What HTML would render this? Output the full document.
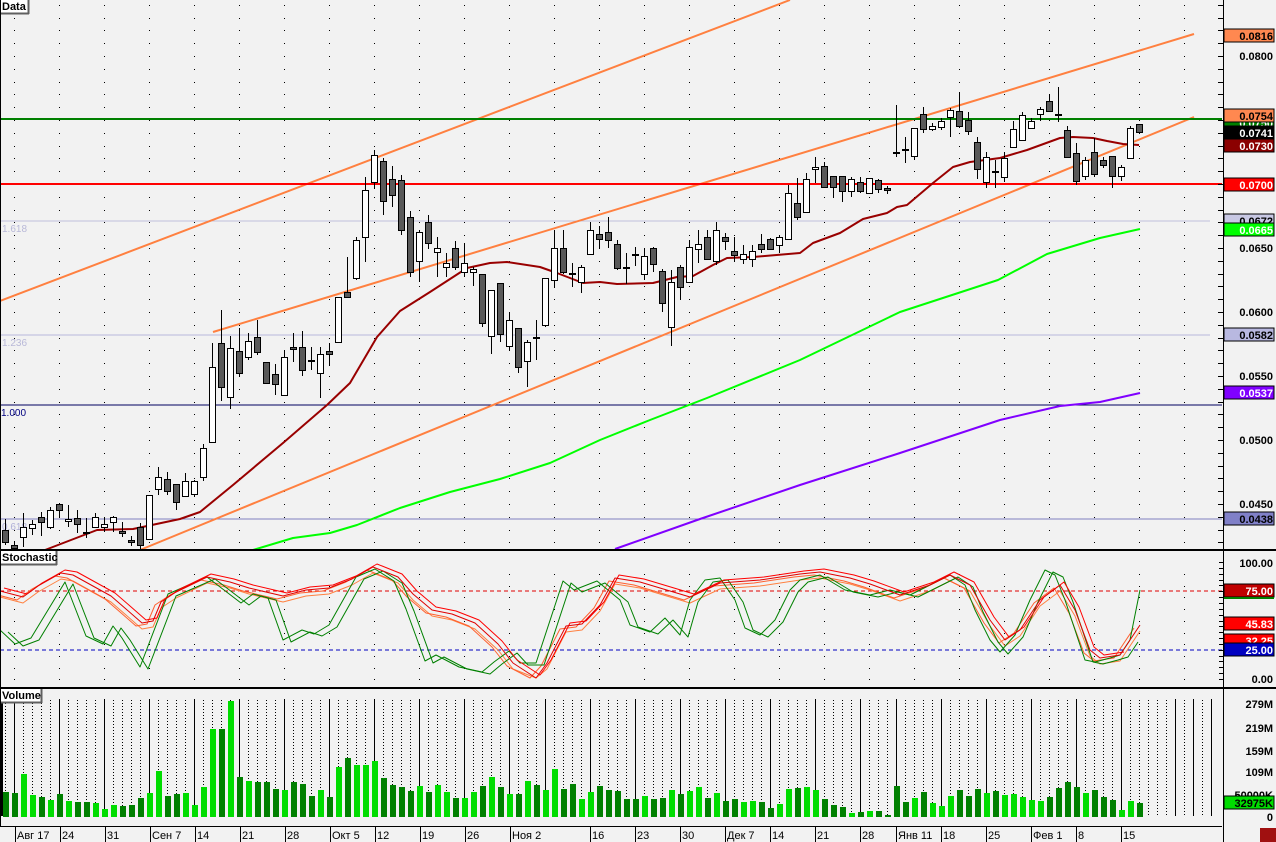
<!DOCTYPE html>
<html><head><meta charset="utf-8"><style>
html,body{margin:0;padding:0;background:#f2f2f2;}
svg{display:block;font-family:"Liberation Sans",sans-serif;}
</style></head><body>
<svg id="s" width="1276" height="842" xmlns="http://www.w3.org/2000/svg"></svg>
<script>
var o=[];
function L(x1,y1,x2,y2,c,w,d){o.push('<line x1="'+x1+'" y1="'+y1+'" x2="'+x2+'" y2="'+y2+'" stroke="'+c+'" stroke-width="'+(w||1)+'"'+(d?' stroke-dasharray="'+d+'"':'')+' shape-rendering="crispEdges"/>');}
function R(x,y,w,h,f,s){o.push('<rect x="'+x+'" y="'+y+'" width="'+w+'" height="'+h+'" fill="'+f+'"'+(s?' stroke="'+s+'"':'')+' shape-rendering="crispEdges"/>');}
function T(x,y,t,c,sz,a,b){o.push('<text x="'+x+'" y="'+y+'" fill="'+c+'" font-size="'+sz+'"'+(a?' text-anchor="'+a+'"':'')+(b?' font-weight="bold"':'')+'>'+t+'</text>');}
function P(pts,c,w){o.push('<polyline points="'+pts.map(function(p){return p.join(",")}).join(" ")+'" fill="none" stroke="'+c+'" stroke-width="'+w+'" stroke-linejoin="round"/>');}
R(0,0,1276,842,"#f2f2f2");
// main grid dots
var dots='';
for(var x=14;x<1222;x+=45){for(var y=56-12.8*4;y<548;y+=12.8){if(y>2)dots+='M'+x+' '+Math.round(y)+'h1v1h-1z';}}
for(var x=14;x<1222;x+=45){for(var y=574;y<686;y+=11.7){dots+='M'+x+' '+Math.round(y)+'h1v1h-1z';}}
o.push('<path d="'+dots+'" fill="#000"/>');
// fib lines
L(0,221,1210,221,"#c0c0dc",1);L(0,335,1210,335,"#b8b8dc",1);L(0,405,1222,405,"#000060",1);L(0,519,1222,519,"#8080c0",1);
T(2,232,"1.618","#b8b8d8",10);T(2,346,"1.236","#b8b8d8",10);T(1,416,"1.000","#000080",10);T(2,530,"0.618","#b0b0d8",10);
// channel lines
P([[0,301],[790,0]],"#ff8040",2);P([[213,332],[1194,34]],"#ff8040",2);P([[140,550],[1194,117]],"#ff8040",2);
L(0,119,1222,119,"#008000",2);L(0,184,1222,184,"#ff0000",2);
// MAs
P([[253,550],[293,538],[330,533],[357,525],[400,508],[450,492],[500,479],[550,463],[600,440],[650,420],[707,398],[800,360],[900,312],[998,280],[1047,254],[1100,238],[1140,229]],"#00ff00",2);
P([[615,549],[700,519],[800,485],[900,453],[1000,420],[1060,406],[1100,402],[1140,393]],"#8000ff",2);
P([[45,550],[97,530],[133,529],[180,519],[200,512],[233,485],[283,443],[327,405],[350,383],[377,337],[400,311],[430,292],[467,268],[490,263],[507,262],[540,267],[557,273],[583,283],[600,282],[617,284],[653,283],[677,277],[693,276],[713,265],[727,258],[753,257],[800,253],[813,243],[840,233],[863,219],[887,213],[897,207],[907,205],[933,183],[953,167],[970,162],[1000,158],[1027,150],[1060,138],[1073,137],[1093,138],[1107,141],[1123,144],[1139,145]],"#990000",2);
// candles
var C=[[0,530,542,519,545],[0,545,548,541,549],[1,527,537,513,547],[1,524,528,520,535],[0,517,522,512,536],[1,510,527,507,529],[0,504,510,503,517],[1,519,521,505,527],[0,518,524,510,533],[0,532,533,518,538],[1,517,527,513,528],[1,524,527,518,532],[1,517,522,516,532],[0,531,533,522,537],[0,540,542,536,546],[0,527,545,523,549],[1,495,539,495,540],[1,477,489,467,495],[0,479,491,472,495],[0,484,502,484,510],[1,481,496,473,497],[1,481,494,480,497],[1,448,477,444,481],[1,367,442,343,442],[0,343,387,310,401],[1,348,397,336,409],[0,351,373,328,377],[1,341,357,333,360],[0,337,352,320,355],[0,362,383,362,383],[0,374,384,364,395],[1,357,395,350,396],[0,347,349,333,362],[0,347,370,331,376],[0,360,361,347,370],[1,354,373,347,398],[0,351,354,343,366],[1,297,342,297,343],[0,292,297,257,298],[1,240,278,237,280],[1,190,237,177,262],[1,155,182,150,189],[0,161,201,158,215],[0,179,195,166,207],
[0,180,230,175,235],[0,217,272,211,277],[1,232,261,230,282],[0,222,243,215,249],[1,248,252,237,277],[1,263,267,253,277],[0,248,267,241,270],[1,263,272,243,277],[1,269,272,267,286],[0,274,323,274,327],[1,290,336,290,354],[0,283,334,283,342],[1,320,346,313,350],[0,328,367,328,373],[1,342,361,340,387],[0,337,338,320,360],[1,278,325,278,327],[1,248,280,230,288],[0,248,272,230,274],[0,273,274,263,287],[1,267,282,265,293],[1,230,254,222,255],[0,234,239,226,248],[0,232,240,217,248],[0,244,268,240,270],[0,267,268,253,284],[0,254,255,247,266],[1,256,274,248,280],[0,248,264,247,272],[0,271,303,269,312],[1,282,327,270,346],[0,267,287,265,300],[1,247,282,240,283],[1,244,249,230,263],[0,237,259,230,260],[1,230,261,222,265],[0,237,241,233,250],[0,251,255,237,262],[1,254,259,245,264],[1,251,259,245,267],[0,244,249,234,253],[0,239,249,238,250],[1,237,245,235,253],[1,193,239,185,240],[0,203,217,178,220],
[1,179,212,173,213],[1,167,169,157,183],[0,166,187,162,187],[0,176,187,176,198],[0,176,191,176,202],[1,179,191,177,197],[0,182,191,177,193],[1,178,193,178,193],[0,180,189,179,193],[0,188,190,186,194],[0,152,153,105,157],[0,149,150,137,163],[1,128,156,128,160],[0,114,129,107,133],[1,126,129,123,131],[1,121,127,118,130],[1,110,117,108,137],[0,111,126,92,128],[0,120,131,112,135],[0,142,169,137,179],[1,157,182,152,188],[0,171,172,160,188],[1,158,177,152,182],[1,129,147,121,148],[1,115,140,112,140],[1,121,128,118,129],[1,109,114,107,121],[0,101,111,95,111],[0,114,115,87,122],[0,130,157,126,158],[0,153,181,143,185],[1,160,176,157,180],[0,152,174,138,177],[0,160,165,157,168],[0,156,176,156,188],[1,167,176,165,181],[1,128,158,126,159],[0,124,132,124,132]];
C.forEach(function(c,i){var x=5+9*i;L(x+0.5,c[3],x+0.5,c[4],"#000",1);var h=Math.max(1,c[2]-c[1]);o.push('<rect x="'+(x-2.5)+'" y="'+(c[1]+0.5)+'" width="6" height="'+h+'" fill="'+(c[0]?"#fff":"#595959")+'" stroke="#000" stroke-width="1"/>');});
// panel separators
L(0,550,1276,550,"#000",2);L(0,688,1276,688,"#000",2);L(0,826.5,1222,826.5,"#000",1);
// stochastic
L(0,591,1222,591,"#e00000",1,"4,3");L(0,650,1222,650,"#0000c0",1,"4,3");
var G=[[0,630],[15,644],[31,638],[65,582],[86,636],[103,644],[113,626],[122,638],[140,667],[168,594],[207,577],[241,603],[253,594],[268,598],[283,640],[302,630],[314,634],[329,625],[356,577],[375,569],[394,581],[406,609],[425,661],[436,655],[459,667],[482,672],[494,662],[509,651],[520,663],[536,663],[563,581],[574,590],[597,581],[620,600],[630,625],[650,632],[665,618],[680,635],[690,600],[705,580],[720,578],[735,600],[745,628],[760,635],[775,620],[790,590],[800,580],[820,575],[845,590],[870,595],[890,590],[910,595],[930,585],[950,575],[965,585],[975,610],[990,640],[1000,652],[1015,635],[1030,600],[1045,570],[1055,575],[1065,600],[1075,630],[1085,660],[1095,662],[1110,658],[1120,655],[1130,640],[1140,590]];
var Rd=[[0,591],[23,597],[38,586],[61,573],[73,575],[111,596],[126,609],[142,623],[153,621],[161,602],[176,592],[207,577],[230,582],[249,588],[283,596],[306,590],[329,588],[352,579],[373,567],[398,577],[413,594],[432,610],[452,614],[475,623],[498,644],[513,663],[536,678],[547,663],[566,626],[582,624],[600,605],[615,578],[640,582],[660,588],[690,597],[720,583],[760,580],[800,574],[820,572],[850,578],[870,584],[900,595],[930,585],[950,575],[970,585],[990,620],[1005,640],[1020,630],[1040,600],[1060,585],[1075,610],[1090,650],[1100,658],[1120,655],[1140,625]];
function sh(a,dx,dy){return a.map(function(p){return [p[0]+dx,Math.min(678,p[1]+dy)]}).filter(function(p){return p[0]<=1140});}
P(sh(Rd,0,6),"#ff8040",1);P(sh(Rd,-6,3),"#ff6030",1);
P(sh(G,8,2),"#008000",1);P(G,"#008000",1);
P(sh(Rd,4,-3),"#ff0000",1);P(Rd,"#e00000",1);
// volume
var V=[792,793,774,795,797,800,794,801,802,802,803,809,805,806,805,798,793,771,796,794,793,805,787,729,729,701,777,781,782,782,789,790,782,784,796,790,797,767,758,765,765,761,778,785,787,791,786,792,785,792,798,798,792,786,777,787,794,794,781,785,790,769,789,784,799,792,786,790,791,799,799,796,799,798,790,794,791,787,798,793,801,799,802,801,802,808,804,789,788,787,790,799,805,807,813,812,811,811,815,786,802,798,792,803,806,796,790,796,789,793,791,795,794,797,800,801,797,788,782,787,793,790,797,800,810,801,803];
var sol=[14,59,104,149,194,239,284,329,374,419,464,509,545,590,635,680,725,770,815,860,896,941,986,1031,1076,1121,1175,1193,1211];
var vd='';
for(var i=0;i<134;i++){var x=5+9*i;if(x>1215)break;if(sol.indexOf(x)>=0)continue;for(var y=700;y<815;y+=3)vd+='M'+x+' '+y+'h1v1h-1z';}
o.push('<path d="'+vd+'" fill="#000"/>');
sol.forEach(function(x){L(x+0.5,699,x+0.5,816,"#000",1);});
V.forEach(function(v,i){var x=5+9*i;R(x-2,v,6,817-v,(C[i]&&C[i][0])?"#00dd00":"#008000");});
R(0,700,3,116,"#000");
// date axis
var D=[[15,"Авг 17"],[60,"24"],[105,"31"],[150,"Сен 7"],[195,"14"],[240,"21"],[285,"28"],[330,"Окт 5"],[375,"12"],[420,"19"],[465,"26"],[510,"Ноя 2"],[590,"16"],[635,"23"],[680,"30"],[725,"Дек 7"],[770,"14"],[815,"21"],[860,"28"],[896,"Янв 11"],[941,"18"],[986,"25"],[1031,"Фев 1"],[1076,"8"],[1121,"15"]];
D.forEach(function(d){L(d[0]+0.5,827,d[0]+0.5,842,"#000",1);T(d[0]+2,839,d[1],"#000",11);});
// right axis
L(1223.5,0,1223.5,842,"#000",1);
for(var p=0.041;p<=0.0841;p+=0.001){var y=Math.round(56+(0.08-p)*12800)+0.5;if(y<548&&y>0)L(1218,y,1223,y,"#000",1);}
for(var y=562;y<=680;y+=5.85)L(1219,Math.round(y)+0.5,1223,Math.round(y)+0.5,"#000",1);
[[56,"0.0800"],[248,"0.0650"],[312,"0.0600"],[376,"0.0550"],[440,"0.0500"],[504,"0.0450"],[563,"100.00"],[679,"0.00"],[704,"279M"],[728,"219M"],[751,"159M"],[772,"109M"],[795,"50000K"],[817,"0"]].forEach(function(a){T(1273,a[0]+4,a[1],"#000",11,"end",1);});
function B(cy,t,bg,fg){R(1224,cy-7,50,13,bg,"#000");T(1273,cy+4,t,fg,11,"end",1);}
B(36,"0.0816","#ff8850","#000");B(123,"0.0750","#008000","#fff");B(116,"0.0754","#ff8850","#000");B(133,"0.0741","#000","#fff");B(146,"0.0730","#8b0000","#fff");B(185,"0.0700","#ff0000","#fff");B(221,"0.0672","#c8c8e4","#000");B(230,"0.0665","#00ff00","#fff");B(335,"0.0582","#b8b8e0","#000");B(393,"0.0537","#8000ff","#fff");B(519,"0.0438","#8080c8","#000");
B(591,"75.00","#c00000","#fff");R(1224,597,50,2,"#008000");R(1224,617,50,2,"#008000");B(624,"45.83","#ff0000","#fff");B(641,"32.25","#ff0000","#fff");B(650,"25.00","#0000c0","#fff");B(803,"32975K","#00dd00","#000");
R(1260,828,16,14,"#a01010");
// panel labels
function Lb(y,t,w){R(0,y,w,13,"#fff");L(w-0.5,y,w-0.5,y+14,"#606060",2);L(0,y+13.5,w,y+13.5,"#606060",2);T(2,y+10,t,"#000",11,null,1);}
Lb(0,"Data",29);Lb(551,"Stochastic",57);Lb(689,"Volume",42);
L(0.5,0,0.5,826,"#000",1);
document.getElementById("s").innerHTML=o.join("");
</script>
</body></html>
